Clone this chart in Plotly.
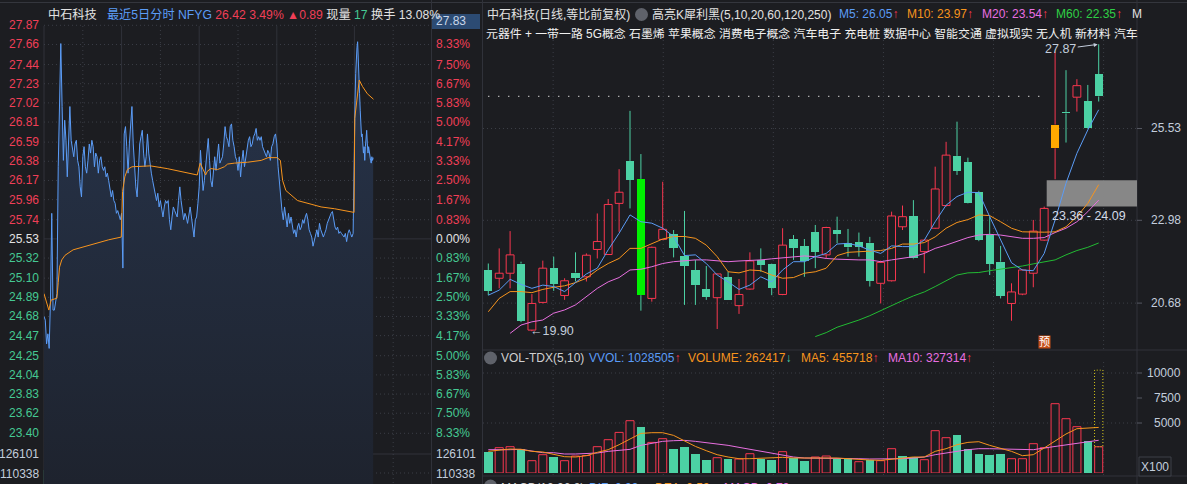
import plotly.graph_objects as go

W, H = 1187, 484
BG = "#1c1d21"
RED = "#f8374f"
RED_TXT = "#f03f57"
TEAL = "#4cd1a4"
GRN_TXT = "#45c993"
LIME = "#00f000"
ORANGE_C = "#ffa800"
BLUE = "#5b9cf6"
ORANGE = "#f7941d"
PINK = "#e86fe0"
GREEN60 = "#22bb33"
WHITE = "#e2e2e2"
AXIS = "#c3cddc"
GRID = "#3b3e46"
LINE = "#30323a"
FONT = "Liberation Sans, Noto Sans CJK SC, sans-serif"

# ---------------- left: recent 5 days intraday ----------------
stock_name = "中石科技"
prev_close = 25.53
last_price = 26.42
last_pct = "3.49%"
last_chg = "0.89"
now_vol = "17"
turnover = "13.08%"
top_box = "27.83"

day1_price = [24.68, 24.64, 24.38, 24.49, 24.33, 24.86, 25.81, 24.75, 24.75, 24.86,
              24.93, 26.32, 26.90, 27.67, 26.98, 26.39, 26.83, 26.61, 26.21, 26.54,
              26.98, 26.61, 26.50, 26.43, 26.57, 26.61, 26.39, 26.32, 26.10, 25.99,
              26.43, 26.54, 26.32, 26.25, 26.39, 26.57, 26.47, 26.61, 26.54, 26.32,
              26.47, 26.43, 26.25, 26.39, 26.43, 26.32, 26.28, 26.32, 26.21, 26.25,
              26.17, 26.06, 25.99, 26.06, 25.95, 25.92, 25.81, 25.84, 25.77, 25.74]
day2_price = [25.81, 25.21, 26.68, 26.76, 26.54, 26.25, 26.57, 26.79, 26.98, 26.57,
              26.25, 26.10, 25.99, 26.36, 26.57, 26.65, 26.72, 26.47, 26.32, 26.43,
              26.68, 26.47, 26.32, 26.25, 26.17, 26.10, 25.99, 25.95, 26.03, 25.88,
              25.95, 25.84, 25.77, 25.88, 25.95, 25.92, 25.95, 25.74, 25.63, 25.77,
              25.88, 25.84, 25.81, 25.77, 25.95, 26.10, 25.95, 25.81, 25.74, 25.81,
              25.77, 25.70, 25.81, 25.88, 25.77, 25.66, 25.55, 25.74, 25.77, 25.92]
day3_price = [26.10, 26.50, 26.25, 26.06, 26.17, 26.32, 26.43, 26.63, 26.39, 26.17,
              26.10, 26.32, 26.43, 26.28, 26.47, 26.57, 26.36, 26.39, 26.43, 26.57,
              26.76, 26.65, 26.61, 26.54, 26.76, 26.79, 26.61, 26.54, 26.43, 26.39,
              26.28, 26.43, 26.21, 26.39, 26.50, 26.32, 26.43, 26.54, 26.61, 26.65,
              26.54, 26.57, 26.65, 26.68, 26.74, 26.61, 26.65, 26.61, 26.65, 26.54,
              26.50, 26.47, 26.43, 26.50, 26.47, 26.39, 26.54, 26.57, 26.65, 26.68]
day4_price = [26.57, 26.32, 26.17, 25.95, 25.84, 25.74, 25.88, 25.77, 25.66, 25.81,
              25.70, 25.77, 25.66, 25.59, 25.63, 25.55, 25.66, 25.70, 25.63, 25.66,
              25.74, 25.70, 25.77, 25.81, 25.74, 25.63, 25.59, 25.55, 25.45, 25.52,
              25.59, 25.63, 25.55, 25.70, 25.63, 25.59, 25.55, 25.59, 25.63, 25.70,
              25.74, 25.77, 25.81, 25.83, 25.74, 25.66, 25.63, 25.66, 25.59, 25.61,
              25.59, 25.57, 25.55, 25.59, 25.50, 25.59, 25.63, 25.59, 25.55, 25.59]
day5_price = [26.87, 27.05, 27.34, 27.60, 27.63, 27.69, 27.41, 27.34, 27.12, 26.94,
              26.83, 26.65, 26.68, 26.57, 26.47, 26.54, 26.39, 26.54, 26.65, 26.72,
              26.57, 26.47, 26.54, 26.47, 26.43, 26.39, 26.36, 26.43, 26.39, 26.42]
minutes_per_day = 240

avg_minute = [0, 6, 15, 22, 40, 44, 48, 55, 65, 90, 120, 160, 200, 239,
              240, 243, 250, 258, 272, 329, 381, 422, 474,
              483, 490, 500, 505, 516, 537, 558, 568, 589, 630, 672, 693, 721,
              731, 738, 748, 764, 784, 826, 857, 899, 930, 959,
              961, 965, 975, 985, 1000, 1019]
avg_price = [24.93, 24.86, 24.75, 24.86, 24.88, 25.05, 25.22, 25.30, 25.35, 25.41, 25.44, 25.48, 25.52, 25.55,
             25.74, 26.05, 26.21, 26.29, 26.32, 26.33, 26.30, 26.27, 26.23,
             26.36, 26.30, 26.23, 26.27, 26.30, 26.29, 26.32, 26.35, 26.36, 26.37, 26.39, 26.42, 26.42,
             26.39, 26.17, 26.06, 26.01, 25.95, 25.91, 25.88, 25.86, 25.84, 25.82,
             26.85, 26.98, 27.27, 27.20, 27.12, 27.06]

left_price_ticks = [27.87, 27.66, 27.44, 27.23, 27.02, 26.81, 26.59, 26.38, 26.17, 25.96, 25.74,
                    25.53, 25.32, 25.10, 24.89, 24.68, 24.47, 24.25, 24.04, 23.83, 23.62, 23.40]
left_pct_ticks = ["", "8.33%", "7.50%", "6.67%", "5.83%", "5.00%", "4.17%", "3.33%", "2.50%", "1.67%", "0.83%",
                  "0.00%", "0.83%", "1.67%", "2.50%", "3.33%", "4.17%", "5.00%", "5.83%", "6.67%", "7.50%", "8.33%"]
left_vol_ticks = ["126101", "110338"]

# ---------------- right: daily K line ----------------
k_open = [21.60, 21.37, 21.51, 21.78, 19.93, 20.70, 21.65, 20.89, 21.53, 21.41,
          22.17, 22.03, 23.45, 24.63, 24.13, 20.81, 22.45, 22.60, 21.99, 21.60,
          21.06, 20.83, 21.40, 20.61, 21.07, 21.88, 21.77, 20.92, 22.46, 22.26,
          22.65, 22.02, 22.71, 22.34, 22.37, 22.36, 21.23, 21.30, 22.80, 23.10,
          22.11, 22.76, 23.39, 24.77, 24.60, 23.77, 22.57, 21.83, 20.67, 20.93,
          21.51, 22.43, 24.98, 25.99, 26.40, 26.29, 27.04]
k_high = [21.78, 22.20, 22.68, 21.83, 20.93, 21.86, 21.97, 21.37, 22.09, 22.06,
          23.17, 23.57, 24.40, 26.02, 24.82, 22.25, 24.05, 22.71, 23.24, 21.88,
          21.71, 21.50, 21.55, 21.35, 22.09, 22.20, 21.78, 22.76, 22.57, 22.46,
          22.85, 22.80, 23.08, 22.74, 22.64, 22.52, 21.86, 23.22, 23.39, 23.54,
          22.45, 24.47, 25.16, 25.72, 24.72, 23.80, 23.08, 22.27, 21.23, 21.62,
          22.99, 23.36, 27.66, 27.15, 26.90, 26.74, 27.87]
k_low = [20.90, 21.09, 21.09, 20.15, 19.90, 20.67, 21.02, 20.77, 21.28, 21.28,
         21.92, 22.03, 22.66, 23.31, 20.47, 20.72, 22.43, 21.95, 20.63, 20.63,
         20.77, 19.96, 20.77, 20.38, 21.05, 21.55, 20.90, 20.90, 21.88, 21.41,
         21.65, 21.92, 22.34, 21.97, 21.97, 21.14, 20.67, 21.28, 22.71, 21.90,
         21.51, 22.74, 23.36, 24.24, 23.45, 22.40, 21.46, 20.81, 20.19, 20.90,
         21.12, 22.41, 24.12, 25.14, 26.00, 25.53, 26.28]
k_close = [21.02, 21.51, 22.02, 20.19, 20.67, 21.65, 21.21, 21.30, 21.39, 22.01,
           22.39, 23.42, 23.76, 24.10, 20.90, 22.23, 22.73, 22.22, 21.72, 21.18,
           20.86, 21.49, 20.78, 20.92, 21.85, 21.74, 21.11, 22.29, 22.22, 21.86,
           22.11, 22.78, 22.60, 22.23, 22.25, 21.30, 21.81, 23.10, 23.08, 21.92,
           22.43, 23.85, 24.79, 24.36, 23.47, 22.43, 21.77, 20.88, 20.99, 21.60,
           22.68, 23.31, 25.64, 25.95, 26.72, 25.55, 26.42]
ma5 = [20.90, 21.04, 21.34, 21.20, 21.09, 21.18, 21.14, 21.00, 21.25, 21.49,
       21.65, 22.16, 22.62, 23.13, 22.94, 22.90, 22.76, 22.53, 22.00, 22.02,
       21.78, 21.46, 21.27, 21.06, 21.18, 21.41, 21.27, 21.60, 21.83, 21.83,
       21.97, 22.06, 22.32, 22.34, 22.27, 22.15, 22.06, 22.27, 22.25, 22.25,
       22.43, 22.94, 23.40, 23.64, 23.76, 23.75, 23.08, 22.43, 21.80, 21.60,
       21.58, 22.06, 22.99, 24.01, 24.84, 25.49, 26.05]
ma10 = [20.44, 20.81, 21.00, 21.00, 20.97, 21.06, 21.12, 21.16, 21.25, 21.37,
        21.60, 21.78, 21.92, 22.20, 22.20, 22.34, 22.46, 22.53, 22.53, 22.48,
        22.29, 21.97, 21.55, 21.52, 21.60, 21.58, 21.46, 21.37, 21.39, 21.51,
        21.55, 21.65, 22.00, 22.09, 22.11, 22.11, 22.14, 22.20, 22.32, 22.32,
        22.36, 22.52, 22.76, 22.92, 23.00, 23.13, 23.11, 22.94, 22.76, 22.66,
        22.65, 22.65, 22.66, 22.80, 23.08, 23.45, 23.97]
ma20 = [None, None, 19.84, 20.07, 20.16, 20.21, 20.40, 20.49, 20.63, 20.86,
        21.09, 21.27, 21.39, 21.60, 21.62, 21.69, 21.78, 21.83, 21.86, 21.88,
        21.88, 21.86, 21.83, 21.85, 21.86, 21.88, 21.91, 21.94, 21.95, 21.99,
        21.97, 21.92, 21.90, 21.88, 21.88, 21.88, 21.83, 21.88, 21.92, 21.97,
        22.06, 22.20, 22.29, 22.39, 22.50, 22.57, 22.59, 22.57, 22.52, 22.48,
        22.48, 22.50, 22.64, 22.76, 22.94, 23.22, 23.54]
ma60 = [None] * 30 + [19.75, 19.86, 20.01, 20.10, 20.21, 20.33, 20.47, 20.63, 20.75, 20.88,
                      20.99, 21.14, 21.30, 21.46, 21.52, 21.53, 21.58, 21.62, 21.67, 21.71,
                      21.77, 21.83, 21.88, 22.02, 22.14, 22.23, 22.35]
special_body = {15: LIME, 53: ORANGE_C}
band_low, band_high = 23.36, 24.09
k_axis_ticks = [25.53, 22.98, 20.68]
concepts = "元器件 + 一带一路 5G概念 石墨烯 苹果概念 消费电子概念 汽车电子 充电桩 数据中心 智能交通 虚拟现实 无人机 新材料 汽车"

# volume (x100)
vol = [2065, 2530, 2630, 2430, 1230, 1830, 1630, 1230, 1700, 1750,
       2630, 3330, 4060, 5230, 4560, 3060, 3430, 2360, 2560, 1865,
       1265, 1530, 1365, 1400, 1930, 1400, 1265, 2130, 1500, 1165,
       1600, 1700, 1400, 1465, 1130, 1300, 1230, 2430, 1730, 1600,
       1330, 4230, 3530, 3760, 2430, 1865, 1765, 1865, 1430, 1430,
       2930, 2530, 6930, 5430, 4630, 3230, 2624]
vol_up = [0, 1, 1, 0, 1, 1, 0, 1, 1, 1, 1, 1, 1, 1, 0, 1, 1, 0, 0, 0,
          0, 1, 0, 1, 1, 0, 0, 1, 0, 0, 1, 1, 0, 0, 1, 0, 1, 1, 0, 0,
          1, 1, 1, 0, 0, 0, 0, 0, 1, 1, 1, 1, 1, 1, 1, 0, 1]
vol_ma5 = [2165, 2300, 2400, 2365, 2165, 2100, 1830, 1630, 1600, 1730,
           2065, 2330, 2830, 3430, 3960, 4030, 4030, 3760, 3230, 2660,
           2230, 1830, 1600, 1430, 1430, 1500, 1500, 1565, 1500, 1500,
           1500, 1565, 1500, 1430, 1330, 1300, 1265, 1365, 1430, 1600,
           1600, 2165, 2430, 2830, 3060, 3130, 2765, 2430, 2165, 1730,
           1830, 2500, 3160, 3900, 4430, 4530, 4557]
vol_ma10 = [2330, 2300, 2330, 2365, 2165, 2030, 2030, 1900, 1900, 1930,
            2000, 2165, 2300, 2365, 2765, 3000, 3165, 3230, 3265, 3165,
            3030, 2930, 2765, 2565, 2365, 2200, 1965, 1730, 1600, 1500,
            1500, 1430, 1430, 1430, 1430, 1400, 1400, 1400, 1430, 1500,
            1600, 1830, 1965, 2165, 2330, 2430, 2430, 2400, 2330, 2300,
            2330, 2500, 2665, 2800, 2930, 3130, 3273]
vvol = 10285
vol_axis_ticks = [10000, 7500, 5000]

# ---------------- helpers ----------------
def fx(p):
    return p / W


def fy(p):
    return 1 - p / H


fig = go.Figure()

# ---- left intraday traces ----
days = [day1_price, day2_price, day3_price, day4_price]
t_all, p_all = [], []
for d, arr in enumerate(days):
    for i, v in enumerate(arr):
        t_all.append(d * minutes_per_day + i * 4)
        p_all.append(v)
for i, v in enumerate(day5_price):
    t_all.append(4 * minutes_per_day + i * 2)
    p_all.append(v)

fig.add_trace(go.Scatter(
    x=t_all, y=p_all, mode="lines", line=dict(color=BLUE, width=1),
    fill="tozeroy",
    fillgradient=dict(type="vertical", start=22.84, stop=27.7,
                      colorscale=[[0, "#1e232e"], [1, "#27344b"]]),
    xaxis="x", yaxis="y", hoverinfo="skip", showlegend=False))
fig.add_trace(go.Scatter(
    x=avg_minute, y=avg_price, mode="lines", line=dict(color=ORANGE, width=1),
    xaxis="x", yaxis="y", hoverinfo="skip", showlegend=False))

# ---- candles ----
n = len(k_close)
kx = list(range(1, n + 1))
groups = {"up": ([], [], []), "dn": ([], [], [])}
spec = {}
wick_r_x, wick_r_y, wick_t_x, wick_t_y = [], [], [], []
for i in range(n):
    o, c, h, l = k_open[i], k_close[i], k_high[i], k_low[i]
    up = c > o
    top, bot = max(o, c), min(o, c)
    xi = kx[i]
    if xi in special_body:
        spec.setdefault(special_body[xi], ([], [], []))
        g = spec[special_body[xi]]
    else:
        g = groups["up" if up else "dn"]
    g[0].append(xi)
    g[1].append(top - bot)
    g[2].append(bot)
    wx, wy = (wick_r_x, wick_r_y) if up else (wick_t_x, wick_t_y)
    wx += [xi, xi, None, xi, xi, None]
    wy += [h, top, None, bot, l, None]

fig.add_trace(go.Scatter(x=wick_r_x, y=wick_r_y, mode="lines", line=dict(color=RED, width=1),
                         xaxis="x2", yaxis="y2", hoverinfo="skip", showlegend=False))
fig.add_trace(go.Scatter(x=wick_t_x, y=wick_t_y, mode="lines", line=dict(color=TEAL, width=1),
                         xaxis="x2", yaxis="y2", hoverinfo="skip", showlegend=False))
fig.add_trace(go.Bar(x=groups["up"][0], y=groups["up"][1], base=groups["up"][2], width=0.72,
                     marker=dict(color=BG, line=dict(color=RED, width=1)),
                     xaxis="x2", yaxis="y2", hoverinfo="skip", showlegend=False))
fig.add_trace(go.Bar(x=groups["dn"][0], y=groups["dn"][1], base=groups["dn"][2], width=0.76,
                     marker=dict(color=TEAL, line=dict(width=0)),
                     xaxis="x2", yaxis="y2", hoverinfo="skip", showlegend=False))
for col, g in spec.items():
    fig.add_trace(go.Bar(x=g[0], y=g[1], base=g[2], width=0.76,
                         marker=dict(color=col, line=dict(width=0)),
                         xaxis="x2", yaxis="y2", hoverinfo="skip", showlegend=False))

for arr, col in [(ma60, GREEN60), (ma20, PINK), (ma10, ORANGE), (ma5, BLUE)]:
    fig.add_trace(go.Scatter(x=kx, y=arr, mode="lines", line=dict(color=col, width=1),
                             xaxis="x2", yaxis="y2", hoverinfo="skip", showlegend=False))

# ---- volume ----
vx_r = [kx[i] for i in range(n) if vol_up[i]]
vy_r = [vol[i] for i in range(n) if vol_up[i]]
vx_t = [kx[i] for i in range(n) if not vol_up[i]]
vy_t = [vol[i] for i in range(n) if not vol_up[i]]
fig.add_trace(go.Bar(x=vx_r, y=vy_r, width=0.74, marker=dict(color=BG, line=dict(color=RED, width=1)),
                     xaxis="x3", yaxis="y3", hoverinfo="skip", showlegend=False))
fig.add_trace(go.Bar(x=vx_t, y=vy_t, width=0.78, marker=dict(color=TEAL, line=dict(width=0)),
                     xaxis="x3", yaxis="y3", hoverinfo="skip", showlegend=False))
fig.add_trace(go.Scatter(x=kx, y=vol_ma10, mode="lines", line=dict(color=PINK, width=1),
                         xaxis="x3", yaxis="y3", hoverinfo="skip", showlegend=False))
fig.add_trace(go.Scatter(x=kx, y=vol_ma5, mode="lines", line=dict(color=ORANGE, width=1),
                         xaxis="x3", yaxis="y3", hoverinfo="skip", showlegend=False))

# ---------------- shapes ----------------
shapes = []


def seg(x0, y0, x1, y1, color=LINE, dash="solid", width=1, xref="paper", yref="paper", layer="below"):
    shapes.append(dict(type="line", x0=x0, y0=y0, x1=x1, y1=y1, xref=xref, yref=yref,
                       line=dict(color=color, width=width, dash=dash), layer=layer))


DOT = "1px,3px"
# borders
seg(0, fy(2.5), 1, fy(2.5), color="#34363d")
seg(fx(44), fy(26), fx(44), 0)
seg(fx(431.5), 1, fx(431.5), 0)
seg(fx(482.5), 1, fx(482.5), 0)
seg(fx(1137), 1, fx(1137), 0)
seg(fx(483), fy(350), 1, fy(350))
seg(fx(483), fy(476), 1, fy(476))
# left grid
for pv in left_price_ticks:
    if pv == prev_close:
        seg(fx(44), pv, fx(432), pv, color=LINE, yref="y")
    else:
        seg(fx(44), pv, fx(432), pv, color=GRID, dash=DOT, yref="y")
seg(fx(44), fy(454), fx(432), fy(454), color=LINE)
seg(fx(44), fy(473), fx(432), fy(473), color=GRID, dash=DOT)
for d in range(1, 5):
    seg(d * minutes_per_day, fy(26), d * minutes_per_day, 0, color=LINE, xref="x")
for d in range(5):
    m = d * minutes_per_day + minutes_per_day / 2
    seg(m, fy(26), m, 0, color=GRID, dash=DOT, xref="x")
seg(fx(44.5), fy(470), fx(44.5), 0, color=TEAL, width=1.2)
# right grid
for pv in k_axis_ticks:
    seg(fx(483), pv, fx(1137), pv, color=GRID, dash=DOT, yref="y2")
    seg(fx(1137), pv, fx(1142), pv, color="#555862", yref="y2")
for vv in vol_axis_ticks:
    seg(fx(1137), vv, fx(1142), vv, color="#555862", yref="y3")
for vv in [10000, 5000]:
    seg(fx(483), vv, fx(1137), vv, color=GRID, dash=DOT, yref="y3")
for k in range(6):
    gx = 6.95 + 10.1 * k
    seg(gx, fy(40), gx, fy(350), color=GRID, dash=DOT, xref="x2")
    seg(gx, fy(362), gx, fy(476), color=GRID, dash=DOT, xref="x2")
# band box
shapes.append(dict(type="rect", xref="paper", yref="y2", x0=fx(1046.7), x1=fx(1137),
                   y0=band_low, y1=band_high, fillcolor="#878787", line=dict(width=0), layer="below"))
# current price dotted
seg(1, k_close[-1], 52, k_close[-1], color="#e8e8e8", dash="1px,9px", width=1.3, xref="x2", yref="y2", layer="above")
# predicted volume dotted box
shapes.append(dict(type="rect", xref="x3", yref="y3", x0=n - 0.38, x1=n + 0.38, y0=vol[-1], y1=vvol,
                   line=dict(color="#d8c817", width=1, dash="1px,2px"), layer="above"))
# top-right price box on left panel
shapes.append(dict(type="rect", xref="paper", yref="paper", x0=fx(432), x1=fx(480), y0=fy(29), y1=fy(14),
                   fillcolor="#2c4b73", line=dict(width=0), layer="below"))
# X100 box
shapes.append(dict(type="rect", xref="paper", yref="paper", x0=fx(1139), x1=fx(1171), y0=fy(476), y1=fy(457),
                   fillcolor=BG, line=dict(color="#3d4048", width=1), layer="above"))
# circle icons
for cy in [14.5, 358, 486]:
    cx = 641.5 if cy == 14.5 else 490.5
    shapes.append(dict(type="circle", xref="paper", yref="paper", x0=fx(cx - 6.5), x1=fx(cx + 6.5),
                       y0=fy(cy + 6.5), y1=fy(cy - 6.5), fillcolor="#5f626a", line=dict(width=0), layer="above"))

# ---------------- annotations ----------------
ann = []


def txt(x, y, text, color=WHITE, size=12, xanchor="left", yanchor="middle", xref="paper", yref="paper", **kw):
    d = dict(x=x, y=y, text=text, xref=xref, yref=yref, xanchor=xanchor, yanchor=yanchor,
             showarrow=False, font=dict(family=FONT, size=size, color=color))
    d.update(kw)
    ann.append(d)


def sp(t, c):
    return f"<span style='color:{c}'>{t}</span>"


# left header
txt(fx(46), fy(15), sp(stock_name, WHITE) + "\u00a0\u00a0\u00a0" + sp("最近5日分时 NFYG", BLUE) + " "
    + sp(f"{last_price:.2f} {last_pct} ▲{last_chg}", RED_TXT) + " " + sp("现量", WHITE) + " "
    + sp(now_vol, GRN_TXT) + " " + sp(f"换手 {turnover}", WHITE), size=12.2)
# left axis labels
for pv, pct in zip(left_price_ticks, left_pct_ticks):
    col = RED_TXT if pv > prev_close else (WHITE if pv == prev_close else GRN_TXT)
    txt(fx(41), pv, f"{pv:.2f}", color=col, xanchor="right", yref="y")
    if pct:
        txt(fx(434), pv, pct, color=col, xanchor="left", yref="y")
for lab, ypx in zip(left_vol_ticks, [453.5, 473.5]):
    txt(fx(40.5), fy(ypx), lab, color=AXIS, xanchor="right")
    txt(fx(434), fy(ypx), lab, color=AXIS, xanchor="left")
txt(fx(434), fy(21.5), top_box, color="#c9d6ea", xanchor="left")

# right header
txt(fx(485), fy(14.5), "中石科技(日线,等比前复权)", color=WHITE)
txt(fx(650), fy(14.5), "高亮K犀利黑(5,10,20,60,120,250)", color=WHITE)
txt(fx(837), fy(14.5), sp(f"M5: {ma5[-1]:.2f}", BLUE) + sp("↑", RED))
txt(fx(905), fy(14.5), sp(f"M10: {ma10[-1]:.2f}", ORANGE) + sp("↑", RED))
txt(fx(980), fy(14.5), sp(f"M20: {ma20[-1]:.2f}", PINK) + sp("↑", RED))
txt(fx(1054), fy(14.5), sp(f"M60: {ma60[-1]:.2f}", "#2fcf45") + sp("↑", RED))
txt(fx(1130), fy(14.5), "M", color=WHITE)
txt(fx(484), fy(34.5), concepts, color="#f0f0f0", size=11.9)

# right axis labels
for pv in k_axis_ticks:
    txt(fx(1183), pv, f"{pv:.2f}", color=AXIS, xanchor="right", yref="y2")
for vv in vol_axis_ticks:
    txt(fx(1183), vv, f"{vv}", color=AXIS, xanchor="right", yref="y3")
txt(fx(1155), fy(466.5), "X100", color=AXIS, xanchor="center")

# candle annotations
imax = k_high.index(max(k_high)) + 1
imin = k_low.index(min(k_low)) + 1
ann.append(dict(x=imax, y=max(k_high), xref="x2", yref="y2", text=f"{max(k_high):.2f}",
                showarrow=True, ax=-38, ay=5, arrowhead=2, arrowsize=0.8, arrowwidth=1,
                arrowcolor=AXIS, standoff=1, font=dict(family=FONT, size=12.5, color=AXIS)))
txt(imin, min(k_low), f"←{min(k_low):.2f}", color=AXIS, xanchor="left", xref="x2", yref="y2",
    xshift=-4, size=12.5)
txt(fx(1050), fy(215.5), f"{band_low:.2f} - {band_high:.2f}", color="#d3dae6", size=12.5)
txt(52, fy(342), "预", color="#ffffff", xanchor="center", xref="x2", size=11,
    bgcolor="#c4501a", borderpad=0)

# volume header
txt(fx(499), fy(358), "VOL-TDX(5,10)", color="#cfcfcf")
txt(fx(587), fy(358), sp("VVOL: 1028505", BLUE) + sp("↑", RED))
txt(fx(686), fy(358), sp("VOLUME: 262417", ORANGE) + sp("↓", TEAL))
txt(fx(799), fy(358), sp("MA5: 455718", ORANGE) + sp("↑", RED))
txt(fx(886), fy(358), sp("MA10: 327314", PINK) + sp("↑", RED))
# macd header (cut off at bottom)
txt(fx(499), fy(479), "MACD(12,26,9)", color="#cfcfcf", yanchor="top")
txt(fx(587), fy(479), sp("DIF: 0.99", BLUE) + sp("↑", RED), yanchor="top")
txt(fx(653), fy(479), sp("DEA: 0.59", ORANGE) + sp("↑", RED), yanchor="top")
txt(fx(722), fy(479), sp("MACD: 0.79", PINK) + sp("↑", RED), yanchor="top")

# ---------------- layout ----------------
ax_off = dict(visible=False, showgrid=False, zeroline=False, fixedrange=True)
k_lo = 25.53 - (350 - 128.5) / 36.0
k_hi = 25.53 + (128.5 - 40) / 36.0
lp = (27.87 - 23.40) / (433.3 - 25.3)
LEFT_TOP = 18
fig.update_layout(
    width=W, height=H, margin=dict(l=0, r=0, t=0, b=0),
    paper_bgcolor=BG, plot_bgcolor="rgba(0,0,0,0)", barmode="overlay", bargap=0,
    showlegend=False, font=dict(family=FONT, color=WHITE),
    xaxis=dict(domain=[fx(44), fx(432)], range=[0, 5 * minutes_per_day], **ax_off),
    yaxis=dict(domain=[0, fy(LEFT_TOP)],
               range=[23.40 - (484 - 433.3) * lp, 27.87 + (25.3 - LEFT_TOP) * lp], **ax_off),
    xaxis2=dict(domain=[fx(483), fx(1137)], range=[1 + (483 - 488.3) / 10.9, 1 + (1137 - 488.3) / 10.9],
                anchor="y2", **ax_off),
    yaxis2=dict(domain=[fy(350), fy(40)], range=[k_lo, k_hi], anchor="x2", **ax_off),
    xaxis3=dict(domain=[fx(483), fx(1137)], range=[1 + (483 - 488.3) / 10.9, 1 + (1137 - 488.3) / 10.9],
                anchor="y3", **ax_off),
    yaxis3=dict(domain=[fy(473), fy(362)], range=[0, 11100], anchor="x3", **ax_off),
    shapes=shapes, annotations=ann,
)

fig.write_html("out.html", config={"displayModeBar": False, "staticPlot": True},
               post_script="document.body.style.margin='0';document.body.style.background='#1c1d21';")
